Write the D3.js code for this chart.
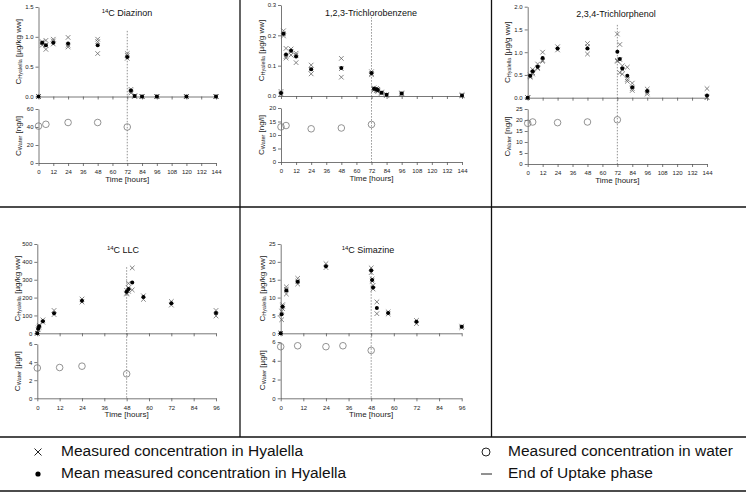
<!DOCTYPE html>
<html><head><meta charset="utf-8">
<script src="https://cdn.jsdelivr.net/npm/d3@7"></script>
<style>body{margin:0;background:#fff}svg{display:block}text{font-family:"Liberation Sans",Arial,sans-serif}</style>
</head><body>
<svg id="c" width="746" height="495"></svg>
<script>
// ---------- DATA ----------
// 14C Diazinon
const diazTime  = [0,3,6,12,24,48,72,75,78,84,96,120,144];
const diazMean  = [0,0.90,0.86,0.90,0.89,0.86,0.66,0.10,0.01,0,0,0,0];
const diazRep   = [[0,0,0],[0.92,0.90,0.86],[0.94,0.86,0.79],[0.96,0.93,0.88],[0.99,0.86,0.83],[0.96,0.92,0.72],[0.72,0.69,0.64],[0.12,0.09,0.06],[0.01,0.01,0],[0,0,0],[0,0,0],[0,0,0],[0,0,0]];
const diazWaterTime = [0,6,24,48,72];
const diazWater     = [41,43,45,45,40];
// 1,2,3-Trichlorobenzene
const tcbTime = [0,2,4,8,12,24,48,72,74,76,77,80,84,96,144];
const tcbMean = [0.01,0.205,0.137,0.149,0.13,0.088,0.092,0.076,0.024,0.022,0.02,0.011,0.004,0.008,0.002];
const tcbRep  = [[0.015,0.008,0.005],[0.215,0.205,0.198],[0.157,0.13,0.125],[0.155,0.147,0.135],[0.141,0.135,0.11],[0.102,0.088,0.073],[0.124,0.09,0.062],[0.08,0.074,0.07],[0.027,0.022,0.02],[0.025,0.02,0.018],[0.022,0.018,0.015],[0.013,0.01,0.009],[0.005,0.003,0.002],[0.01,0.008,0.006],[0.004,0.002,0.001]];
const tcbWaterTime = [0,4,24,48,72];
const tcbWater     = [13,13.5,12.3,12.6,13.9];
// 2,3,4-Trichlorphenol
const tcpTime = [0,2,4,8,12,24,48,72,74,76,80,84,96,144];
const tcpMean = [0,0.48,0.58,0.68,0.87,1.08,1.08,1.01,0.85,0.64,0.48,0.23,0.15,0.05];
const tcpRep  = [[0,0,0],[0.47,0.50,0.45],[0.62,0.55,0.52],[0.74,0.66,0.64],[1.00,0.82,0.80],[1.12,1.05],[1.19,1.12,0.96],[1.40,0.82,0.80],[1.17,0.84,0.55],[0.70,0.62,0.52],[0.67,0.40,0.36],[0.32,0.20,0.16],[0.19,0.12,0.08],[0.20,0.02,0.0]];
const tcpWaterTime = [0,4,24,48,72];
const tcpWater     = [18.5,19.1,18.8,19.1,20.1];
// 14C LLC
const llcTime = [0,0.5,1,3,9,24,48,49,51,57,72,96];
const llcMean = [0,25,40,68,112,182,232,248,285,203,168,113];
const llcRep  = [[0,0],[30,20],[45,35],[75,62],[128,105],[192,175],[240,225,220],[280,255,235],[366,243],[210,190],[178,158],[128,97]];
const llcWaterTime = [0,12,24,48];
const llcWater     = [3.35,3.4,3.55,2.7];
// 14C Simazine
const simTime = [0,0.5,1,3,9,24,48,48.5,49,51,57,72,96];
const simMean = [0,5.3,7.4,12.0,14.4,18.8,17.6,14.9,12.8,7.1,5.7,3.2,1.8];
const simRep  = [[0,0],[3.8,6.2],[8.0,6.9,7.6],[13.0,11.0,12.3],[15.4,13.8,14.6],[19.5,18.4],[18.3,17.0],[15.2,14.6],[13.4,12.4],[8.8,5.5],[6.0,5.4],[3.6,2.7],[2.0,1.6]];
const simWaterTime = [0,9,24,33,48];
const simWater     = [5.5,5.6,5.5,5.6,5.1];

// tick labels
const xTicks144 = [0,12,24,36,48,60,72,84,96,108,120,132,144];
const xTicks96  = [0,12,24,36,48,60,72,84,96];
const legendLabels = ["Measured concentration in Hyalella","Mean measured concentration in Hyalella","Measured concentration in water","End of Uptake phase"];

// ---------- PANELS ----------
const panels = [
 {sup:"14",title:"C Diazinon",time:diazTime,mean:diazMean,rep:diazRep,wt:diazWaterTime,w:diazWater,
  xMax:144,xT:xTicks144,yU:[0,0.5,1.0,1.5],yL:[0,20,40,60],fU:".1f",fL:"d",uU:"[µg/kg ww]",uL:"[ng/l]",end:72,endTop:1.1,
  x0:38.5,x1:216,u:[96.5,7],l:[163,109],lab:19,tx:127,ty:16},
 {sup:"",title:"1,2,3-Trichlorobenzene",time:tcbTime,mean:tcbMean,rep:tcbRep,wt:tcbWaterTime,w:tcbWater,
  xMax:144,xT:xTicks144,yU:[0,0.1,0.2,0.3],yL:[0,5,10,15,20],fU:".1f",fL:"d",uU:"[µg/g ww]",uL:"[ng/l]",end:72,endTop:0.26,
  x0:281,x1:462,u:[96,5],l:[162,108],lab:262,tx:371,ty:16},
 {sup:"",title:"2,3,4-Trichlorphenol",time:tcpTime,mean:tcpMean,rep:tcpRep,wt:tcpWaterTime,w:tcpWater,
  xMax:144,xT:xTicks144,yU:[0,0.5,1.0,1.5,2.0],yL:[0,5,10,15,20,25],fU:".1f",fL:"d",uU:"[µg/g ww]",uL:"[ng/l]",end:72,endTop:1.6,
  x0:527.7,x1:707,u:[97.7,6.7],l:[164,109],lab:508,tx:616,ty:17},
 {sup:"14",title:"C LLC",time:llcTime,mean:llcMean,rep:llcRep,wt:llcWaterTime,w:llcWater,
  xMax:96,xT:xTicks96,yU:[0,100,200,300,400,500],yL:[0,2,4,6],fU:"d",fL:"d",uU:"[µg/kg ww]",uL:"[µg/l]",end:48,endTop:370,
  x0:37.3,x1:216,u:[333.3,244],l:[398.3,344],lab:17.5,tx:123,ty:253},
 {sup:"14",title:"C Simazine",time:simTime,mean:simMean,rep:simRep,wt:simWaterTime,w:simWater,
  xMax:96,xT:xTicks96,yU:[0,5,10,15,20,25],yL:[0,2,4,6],fU:"d",fL:"d",uU:"[µg/kg ww]",uL:"[µg/l]",end:48,endTop:18.5,
  x0:280.7,x1:461.7,u:[333.3,244],l:[398.3,342],lab:263,tx:368,ty:253}
];

const svg = d3.select("#c");
const AX = "#555", TXT = "#222";

function styleAxis(g){
  g.select(".domain").attr("stroke",AX).attr("stroke-width",0.8);
  g.selectAll(".tick line").attr("stroke",AX).attr("stroke-width",0.8);
  g.selectAll(".tick text").attr("fill",TXT).attr("font-size","6px").attr("font-family","'Liberation Sans',Arial,sans-serif");
}

panels.forEach(p=>{
  const g = svg.append("g");
  const x = d3.scaleLinear().domain([0,p.xMax]).range([p.x0,p.x1]);
  const yU = d3.scaleLinear().domain([0,p.yU[p.yU.length-1]]).range(p.u);
  const yL = d3.scaleLinear().domain([0,p.yL[p.yL.length-1]]).range(p.l);

  // end of uptake line
  g.append("line").attr("x1",x(p.end)).attr("x2",x(p.end)).attr("y1",yU(p.endTop)).attr("y2",yL(0))
    .attr("stroke","#777").attr("stroke-width",0.8).attr("stroke-dasharray","1.5,1.5");

  // axes
  g.append("g").attr("transform",`translate(${p.x0},0)`)
    .call(d3.axisLeft(yU).tickValues(p.yU).tickSize(3).tickPadding(2).tickSizeOuter(0).tickFormat(d3.format(p.fU))).call(styleAxis);
  g.append("g").attr("transform",`translate(0,${p.u[0]})`)
    .call(d3.axisBottom(x).tickValues(p.xT).tickSize(3).tickSizeOuter(0).tickFormat("")).call(styleAxis);
  g.append("g").attr("transform",`translate(${p.x0},0)`)
    .call(d3.axisLeft(yL).tickValues(p.yL).tickSize(3).tickPadding(2).tickSizeOuter(0).tickFormat(d3.format(p.fL))).call(styleAxis);
  const xa = g.append("g").attr("transform",`translate(0,${p.l[0]})`)
    .call(d3.axisBottom(x).tickValues(p.xT).tickSize(3).tickSizeOuter(0)).call(styleAxis);
  xa.selectAll(".tick text").attr("dy","0.9em");

  // axis titles
  g.append("text").attr("x",(p.x0+p.x1)/2).attr("y",p.l[0]+19).attr("text-anchor","middle")
    .attr("font-size","8px").attr("fill",TXT).text("Time [hours]");
  const yl = (cy,sub,unit)=>{
    const t = g.append("text").attr("transform",`translate(${p.lab},${cy}) rotate(-90)`)
      .attr("text-anchor","middle").attr("dominant-baseline","middle").attr("font-size","8px").attr("fill",TXT);
    t.append("tspan").text("C");
    t.append("tspan").attr("font-size","5.5px").attr("dy","2").text(sub);
    t.append("tspan").attr("dy","-2").text("  "+unit);
  };
  yl((p.u[0]+p.u[1])/2,"Hyalella",p.uU);
  yl((p.l[0]+p.l[1])/2,"Water",p.uL);

  // title
  const tt = g.append("text").attr("x",p.tx).attr("y",p.ty).attr("text-anchor","middle")
    .attr("font-size","9px").attr("fill","#111");
  if(p.sup){ tt.append("tspan").attr("font-size","6px").attr("dy","-3").text(p.sup); tt.append("tspan").attr("dy","3").text(p.title); }
  else tt.text(p.title);

  // replicates (crosses)
  const reps = [];
  p.time.forEach((t,i)=>p.rep[i].forEach(v=>reps.push([t,v])));
  g.selectAll(".rep").data(reps).enter().append("path")
    .attr("d",d=>{const cx=x(d[0]),cy=yU(d[1]),s=2.3;return `M${cx-s},${cy-s}L${cx+s},${cy+s}M${cx-s},${cy+s}L${cx+s},${cy-s}`;})
    .attr("stroke","#666").attr("stroke-width",0.8).attr("fill","none");
  // means
  g.selectAll(".mean").data(p.time.map((t,i)=>[t,p.mean[i]])).enter().append("circle")
    .attr("cx",d=>x(d[0])).attr("cy",d=>yU(d[1])).attr("r",2).attr("fill","#000");
  // water
  g.selectAll(".water").data(p.wt.map((t,i)=>[t,p.w[i]])).enter().append("circle")
    .attr("cx",d=>x(d[0])).attr("cy",d=>yL(d[1])).attr("r",3.3).attr("fill","none").attr("stroke","#777").attr("stroke-width",0.8);
});

// panel dividers
const div = svg.append("g").attr("stroke","#111").attr("stroke-width",1.3);
div.append("line").attr("x1",240).attr("x2",240).attr("y1",0).attr("y2",437);
div.append("line").attr("x1",491.5).attr("x2",491.5).attr("y1",0).attr("y2",437);
div.append("line").attr("x1",0).attr("x2",746).attr("y1",207).attr("y2",207);
div.append("line").attr("x1",0).attr("x2",746).attr("y1",437).attr("y2",437);
div.append("line").attr("x1",0).attr("x2",746).attr("y1",491).attr("y2",491);

// legend
const lg = svg.append("g");
const lpos = [[38,61,452],[38,61,474],[486,508,452],[486,508,474]];
lg.selectAll(".lt").data(legendLabels).enter().append("text")
  .attr("x",(d,i)=>lpos[i][1]).attr("y",(d,i)=>lpos[i][2]).attr("dominant-baseline","middle")
  .attr("font-size","15.5px").attr("fill","#111").text(d=>d);
// symbols
lg.append("path").attr("d",`M${38-3.5},${452-3.5}L${38+3.5},${452+3.5}M${38-3.5},${452+3.5}L${38+3.5},${452-3.5}`).attr("stroke","#222").attr("stroke-width",1);
lg.append("circle").attr("cx",38).attr("cy",474).attr("r",2.6).attr("fill","#000");
lg.append("circle").attr("cx",486).attr("cy",452).attr("r",4).attr("fill","none").attr("stroke","#222").attr("stroke-width",1);
lg.append("line").attr("x1",481).attr("x2",492).attr("y1",474).attr("y2",474).attr("stroke","#222").attr("stroke-width",1);
</script>
</body></html>
